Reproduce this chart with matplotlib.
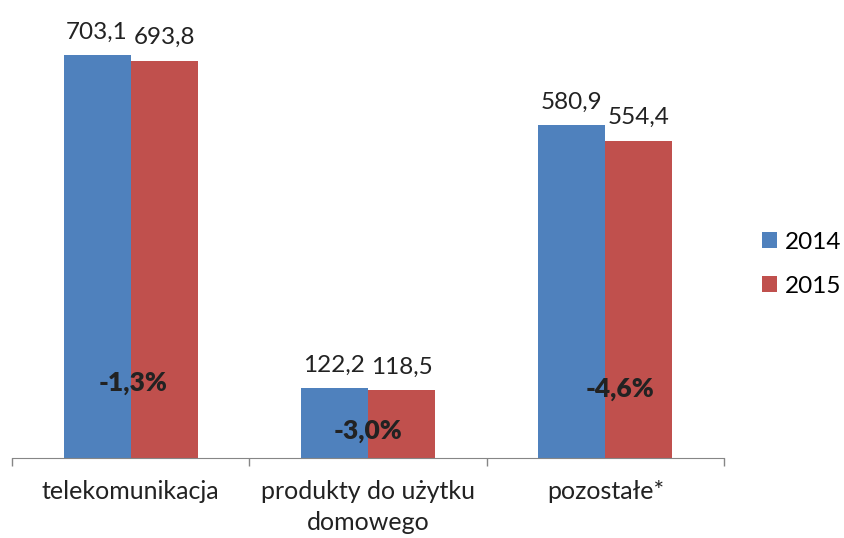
import numpy as np
import matplotlib.pyplot as plt

plt.rcParams['font.family'] = ['Lato', 'DejaVu Sans']

# dane
kategorie = ['telekomunikacja', 'produkty do użytku\ndomowego', 'pozostałe*']
wartosci_2014 = [703.1, 122.2, 580.9]
wartosci_2015 = [693.8, 118.5, 554.4]
zmiany = ['-1,3%', '-3,0%', '-4,6%']
zmiany_y = [131, 47, 121]

kolor_2014 = '#4F81BD'
kolor_2015 = '#C0504D'

fig = plt.figure(figsize=(8.45, 5.38), dpi=100)
ax = fig.add_axes([12 / 845, 80 / 538, (724 - 12) / 845, 458 / 538])

x = np.arange(len(kategorie))
szer = 0.283

b1 = ax.bar(x - szer / 2, wartosci_2014, szer, color=kolor_2014, label='2014')
b2 = ax.bar(x + szer / 2, wartosci_2015, szer, color=kolor_2015, label='2015')

# etykiety wartosci nad slupkami
for bars, vals in [(b1, wartosci_2014), (b2, wartosci_2015)]:
    for rect, v in zip(bars, vals):
        ax.annotate(f'{v:.1f}'.replace('.', ','),
                    (rect.get_x() + rect.get_width() / 2, v),
                    xytext=(0, 9), textcoords='offset points',
                    ha='center', va='bottom', fontsize=17.5, color='#222222')

# zmiany procentowe
pozycje_x = [0.01, 0.0, 0.06]
for i, (z, y) in enumerate(zip(zmiany, zmiany_y)):
    ax.text(i + pozycje_x[i], y, z, ha='center', va='center',
            fontsize=19, fontweight='heavy', color='#222222')

ax.set_xlim(-0.5, 2.5)
ax.set_ylim(0, 800)
ax.set_yticks([])
ax.set_xticks([-0.5, 0.5, 1.5, 2.5], minor=False)
ax.set_xticklabels([])
ax.set_xticks(x, minor=True)
ax.set_xticklabels(kategorie, minor=True, fontsize=18, color='#222222',
                   linespacing=1.4)
ax.tick_params(axis='x', which='major', length=6, color='#868686', width=1)
ax.tick_params(axis='x', which='minor', length=0, pad=16)

for s in ['top', 'right', 'left']:
    ax.spines[s].set_visible(False)
ax.spines['bottom'].set_color('#868686')

fig.legend(handles=[b1, b2], loc='center left', bbox_to_anchor=(0.902, 0.509),
           frameon=False, fontsize=17.5, handlelength=0.62, handleheight=0.62,
           handletextpad=0.33, labelspacing=0.95, borderpad=0, borderaxespad=0)

fig.savefig('out.png', dpi=100)
